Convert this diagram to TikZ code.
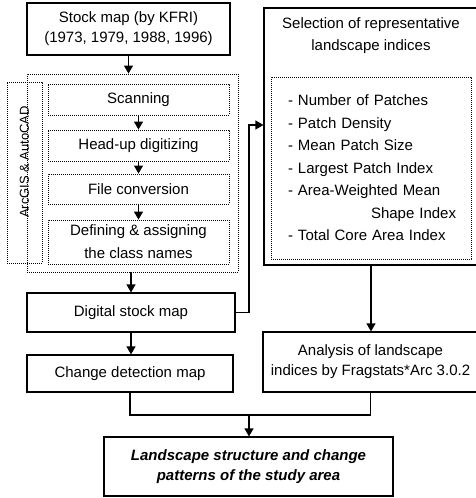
\documentclass[tikz,border=0pt]{standalone}
\usepackage{fontspec}
\setmainfont{Liberation Sans}
\usetikzlibrary{arrows.meta}

\tikzset{
  solidbox/.style={draw, line width=1.2pt, inner sep=0pt, align=center},
  dotbox/.style={draw, line width=0.9pt, dash pattern=on 0.9pt off 1.1pt, inner sep=0pt, align=center}
}

\begin{document}
\begin{tikzpicture}[x=1pt, y=-1pt, font=\fontsize{15}{20}\selectfont]
\useasboundingbox (0,0) rectangle (476,498);

% left column: maps and the digitizing steps
\begin{scope}[every node/.style={solidbox}]
  \node[minimum width=203pt, minimum height=52pt] (stock) at (128.5,29)
    {Stock map (by KFRI)\\(1973, 1979, 1988, 1996)};
  \node[minimum width=208pt, minimum height=39pt] (digital) at (131,312.5) {Digital stock map};
  \node[minimum width=206pt, minimum height=37pt] (change) at (130,373.5) {Change detection map};
\end{scope}

\begin{scope}[every node/.style={dotbox}]
  \node[minimum width=211pt, minimum height=198pt] (gis) at (132.5,173) {};
  \node[minimum width=35pt, minimum height=181pt] (tools) at (24.5,172.5) {};
  \node[minimum width=181pt, minimum height=31pt] (scan) at (138.5,99.5) {Scanning};
  \node[minimum width=181pt, minimum height=31pt] (headup) at (138.5,145.5) {Head-up digitizing};
  \node[minimum width=181pt, minimum height=30pt] (convert) at (138.5,189) {File conversion};
  \node[minimum width=181pt, minimum height=44pt, font=\fontsize{15}{23}\selectfont] (classes) at (138.5,242)
    {Defining \& assigning\\the class names};
\end{scope}
\node[rotate=90, inner sep=0pt, font=\fontsize{13}{15}\selectfont] (toolname) at (tools.center |- 0,162)
  {ArcGIS \& AutoCAD};

% right column: indices and their analysis
\node[solidbox, minimum width=214pt, minimum height=257pt] (select) at (371,136.5) {};
\node[align=center, inner sep=0pt, font=\fontsize{15}{22}\selectfont] (seltitle) at (371,36)
  {Selection of representative\\landscape indices};
\node[dotbox, align=left, text width=166pt, inner xsep=17pt, minimum height=182pt,
      font=\fontsize{15}{22.5}\selectfont] (indices) at (371,168)
  {- Number of Patches\\
   - Patch Density\\
   - Mean Patch Size\\
   - Largest Patch Index\\
   - Area-Weighted Mean\\
   \hspace*{83pt}\mbox{Shape Index}\\
   - Total Core Area Index};
\node[solidbox, minimum width=215pt, minimum height=60pt] (analysis) at (370.5,362)
  {Analysis of landscape\\indices by Fragstats*Arc 3.0.2};

\node[solidbox, minimum width=289pt, minimum height=59pt, font=\fontsize{15}{20}\selectfont\bfseries\itshape]
  (result) at (248.5,466.5) {Landscape structure and change\\patterns of the study area};

\coordinate (bend) at (249,125);
\coordinate (join) at (249,415);

\begin{scope}[>={Stealth[black, inset=0pt, length=8pt, width=9pt]},
              every edge/.style={draw=black, line width=1.2pt}]
  \path[->] (stock.south) edge (stock.south |- gis.north);
  \path[->] (scan) edge (headup);
  \path[->] (headup) edge (convert);
  \path[->] (convert) edge (classes);
  \path[->] (digital.north |- gis.south) edge (digital.north);
  \path[->] (digital.south) edge (digital.south |- change.north);
  \path[->] (select.south) edge (select.south |- analysis.north);
  \draw[->, line width=1.2pt] (digital.east) -| (bend) -- (bend -| select.west);
  \draw[line width=1.2pt] (change.south) |- (join);
  \draw[line width=1.2pt] (analysis.south) |- (join);
  \path[->] (join) edge (join |- result.north);
\end{scope}

\end{tikzpicture}
\end{document}
